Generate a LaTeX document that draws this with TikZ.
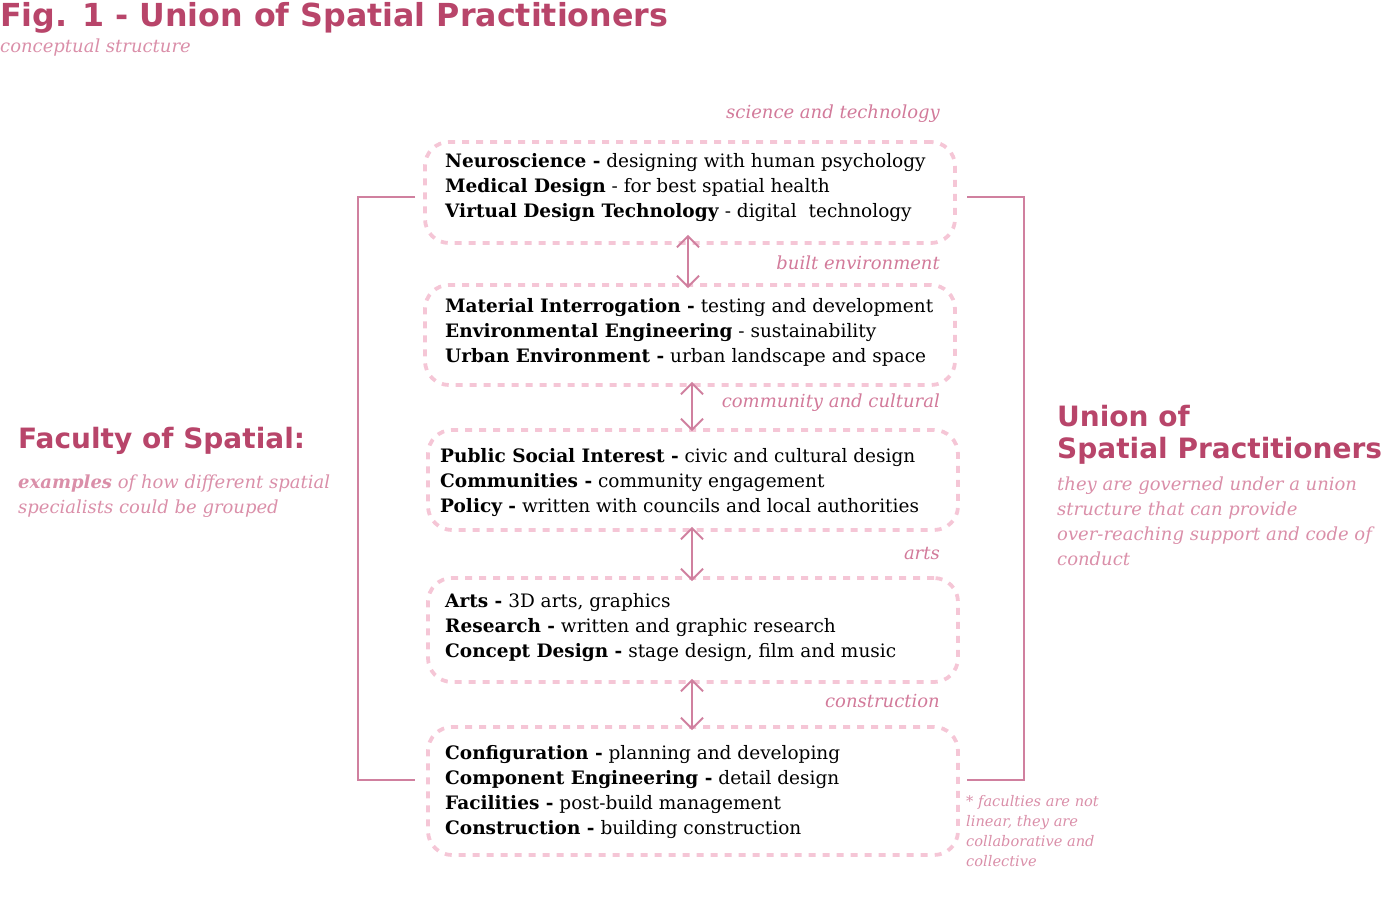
\documentclass[tikz,border=0pt]{standalone}
\usepackage{fontspec}
\setmainfont{DejaVu Serif}
\newfontfamily\headfont{DejaVu Sans}
\usetikzlibrary{arrows.meta}
\definecolor{titlecol}{RGB}{184,69,106}
\definecolor{labcol}{RGB}{210,122,154}
\definecolor{subcol}{RGB}{218,143,169}
\definecolor{dashcol}{RGB}{245,198,214}
\definecolor{linecol}{RGB}{208,128,159}
\begin{document}
\begin{tikzpicture}[x=1pt,y=-1pt,
  box/.style={draw=dashcol, line width=3.8pt, dash pattern=on 7pt off 7pt, rounded corners=24pt, inner sep=0},
  body/.style={anchor=west, align=left, inner sep=0, font=\fontsize{18.5}{25}\selectfont},
  cat/.style={anchor=east, inner sep=0, text=labcol, font=\fontsize{18}{20}\selectfont\itshape},
  head/.style={anchor=west, inner sep=0, text=titlecol, font=\headfont\bfseries\fontsize{28}{35}\selectfont},
  sub/.style={anchor=west, align=left, inner sep=0, text=subcol, font=\fontsize{18}{25}\selectfont\itshape},
  link/.style={draw=linecol, line width=2pt, {Straight Barb[length=11pt,width=22pt]}-{Straight Barb[length=11pt,width=22pt]}},
  bracket/.style={draw=linecol, line width=1.8pt}]
\useasboundingbox (0,0) rectangle (1400,911);

% title
\node[head, font=\headfont\bfseries\fontsize{31.7}{36}\selectfont] (title) at (0,18) {Fig. 1 - Union of Spatial Practitioners};
\node[sub] (subtitle) at (0,48) {conceptual structure};

% boxes
\node[box, minimum width=530pt, minimum height=101pt] (b1) at (690,192.5) {};
\node[box, minimum width=530pt, minimum height=100pt] (b2) at (690,335) {};
\node[box, minimum width=530pt, minimum height=100pt] (b3) at (693,480) {};
\node[box, minimum width=530pt, minimum height=104pt] (b4) at (693,630) {};
\node[box, minimum width=530pt, minimum height=128pt] (b5) at (693,791) {};

% box texts
\node[body] (t1) at (445,188) {\textbf{Neuroscience -} designing with human psychology\\\textbf{Medical Design} - for best spatial health\\\textbf{Virtual Design Technology} - digital\ \ technology};
\node[body] (t2) at (445,332) {\textbf{Material Interrogation -} testing and development\\\textbf{Environmental Engineering} - sustainability\\\textbf{Urban Environment -} urban landscape and space};
\node[body] (t3) at (440,483) {\textbf{Public Social Interest -} civic and cultural design\\\textbf{Communities -} community engagement\\\textbf{Policy -} written with councils and local authorities};
\node[body] (t4) at (445,628) {\textbf{Arts -} 3D arts, graphics\\\textbf{Research -} written and graphic research\\\textbf{Concept Design -} stage design, film and music};
\node[body] (t5) at (445,792) {\textbf{Configuration -} planning and developing\\\textbf{Component Engineering -} detail design\\\textbf{Facilities -} post-build management\\\textbf{Construction -} building construction};

% category labels
\node[cat] (c1) at (940,114) {science and technology};
\node[cat] (c2) at (940,263) {built environment};
\node[cat] (c3) at (940,403) {community and cultural};
\node[cat] (c4) at (940,553) {arts};
\node[cat] (c5) at (940,701) {construction};

% arrows
\draw[link] ([xshift=-2pt,yshift=10pt]b1.south) -- ([xshift=-2pt,yshift=-5pt]b2.north);
\draw[link] ([xshift=2pt,yshift=5pt]b2.south) -- ([xshift=-1pt,yshift=-3pt]b3.north);
\draw[link] ([xshift=-1pt,yshift=5pt]b3.south) -- ([xshift=-1pt,yshift=-5pt]b4.north);
\draw[link] ([xshift=-1pt,yshift=5pt]b4.south) -- ([xshift=-1pt,yshift=-5pt]b5.north);

% brackets
\coordinate (lt) at (415,197);
\coordinate (lb) at (415,780);
\coordinate (rt) at (967,197);
\coordinate (rb) at (967,780);
\draw[bracket] (lt) -- (358,197) -- (358,780) -- (lb);
\draw[bracket] (rt) -- (1024,197) -- (1024,780) -- (rb);

% left side
\node[head] (fac) at (18,441) {Faculty of Spatial:};
\node[sub] (facsub) at (18,496) {\textbf{examples} of how different spatial\\specialists could be grouped};

% right side
\node[head] (u1) at (1057,416) {Union of};
\node[head] (u2) at (1057,451) {Spatial Practitioners};
\node[sub] (usub) at (1057,521) {they are governed under a union\\structure that can provide\\over-reaching support and code of\\conduct};

% footnote
\node[sub, font=\fontsize{14.6}{19.7}\selectfont\itshape] (foot) at (966,831) {* faculties are not\\linear, they are\\collaborative and\\collective};
\end{tikzpicture}
\end{document}
